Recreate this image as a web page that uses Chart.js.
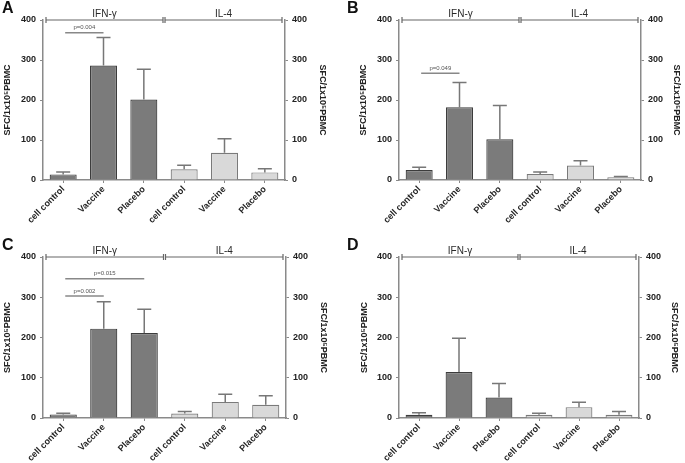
<!DOCTYPE html>
<html>
<head>
<meta charset="utf-8">
<script src="https://cdn.jsdelivr.net/npm/chart.js@4/dist/chart.umd.min.js"></script>
<style>
  body { margin: 0; background: #fff; }
  #page { position: relative; width: 685px; height: 463px; overflow: hidden; }
  .panel { position: absolute; }
  .letter { position: absolute; font: bold 16px "Liberation Sans", Arial, sans-serif; color: #111; }
</style>
</head>
<body>
<div id="page">
  <div class="panel" style="left:0;top:0;width:342px;height:231px"><canvas id="cA"></canvas></div>
  <div class="panel" style="left:345px;top:0;width:340px;height:231px"><canvas id="cB"></canvas></div>
  <div class="panel" style="left:0;top:232px;width:342px;height:231px"><canvas id="cC"></canvas></div>
  <div class="panel" style="left:345px;top:232px;width:340px;height:231px"><canvas id="cD"></canvas></div>
  <div class="letter" style="left:2px;top:-1px">A</div>
  <div class="letter" style="left:347px;top:-1px">B</div>
  <div class="letter" style="left:2px;top:236px">C</div>
  <div class="letter" style="left:347px;top:236px">D</div>
</div>
<script>
// categories and groups
const categories = ['cell control', 'Vaccine', 'Placebo', 'cell control', 'Vaccine', 'Placebo'];
const groups = ['IFN-γ', 'IL-4'];
const yTicks = [0, 100, 200, 300, 400];
const axisTitle = 'SFC/1x10⁵PBMC';

// means and top of error bar (mean + sd)
const meanA = [14, 286, 201, 27, 68, 19];
const errA  = [20, 356, 277, 37, 103, 28];
const meanB = [25, 182, 102, 15, 36, 7];
const errB  = [32, 244, 186, 20, 48, 9];
const meanC = [9, 222, 211, 11, 40, 33];
const errC  = [12, 289, 270, 16, 59, 55];
const meanD = [8, 114, 51, 8, 27, 8];
const errD  = [13, 198, 86, 12, 39, 16];

// significance lines: [from index, to index, y value, label]
const sigA = [[0, 1, 368, 'p=0.004']];
const sigB = [[0, 1, 267, 'p=0.049']];
const sigC = [[0, 1, 303, 'p=0.002'], [0, 2, 346, 'p=0.015']];
const sigD = [];

const darkFill = '#7b7b7b', darkLine = '#3c3c3c';
const lightFill = '#d9d9d9', lightLine = '#7a7a7a';
const axisGray = '#8a8a8a';
const font = '"Liberation Sans", Arial, sans-serif';

Chart.defaults.font.family = font;
Chart.defaults.color = '#333';

const annot = {
  id: 'annot',
  afterDatasetsDraw(chart, args, opts) {
    const { ctx, scales: { x, y }, chartArea } = chart;
    ctx.save();
    ctx.lineWidth = 1.5;
    ctx.strokeStyle = '#777';
    // error bars (upper only)
    opts.err.forEach((e, i) => {
      const cx = x.getPixelForValue(i);
      const y0 = y.getPixelForValue(opts.mean[i]);
      const y1 = y.getPixelForValue(e);
      ctx.beginPath();
      ctx.moveTo(cx, y0); ctx.lineTo(cx, y1);
      ctx.moveTo(cx - 7, y1); ctx.lineTo(cx + 7, y1);
      ctx.stroke();
    });
    // group brackets along the top
    const yt = y.getPixelForValue(400);
    const mid = (x.getPixelForValue(2) + x.getPixelForValue(3)) / 2;
    const segs = [[chartArea.left + 3, mid - 1], [mid + 1, chartArea.right - 3]];
    ctx.strokeStyle = '#666';
    ctx.lineWidth = 1.2;
    ctx.fillStyle = '#2a2a2a';
    ctx.font = '10px ' + font;
    ctx.textAlign = 'center';
    ctx.textBaseline = 'bottom';
    segs.forEach((s, k) => {
      ctx.beginPath();
      ctx.moveTo(s[0], yt); ctx.lineTo(s[1], yt);
      ctx.moveTo(s[0], yt - 3); ctx.lineTo(s[0], yt + 3);
      ctx.moveTo(s[1], yt - 3); ctx.lineTo(s[1], yt + 3);
      ctx.stroke();
      ctx.fillText(groups[k], (s[0] + s[1]) / 2, yt - 1);
    });
    // p-value lines
    ctx.strokeStyle = '#888';
    ctx.lineWidth = 1.5;
    ctx.font = '6px ' + font;
    ctx.fillStyle = '#555';
    opts.sig.forEach(s => {
      const xa = x.getPixelForValue(s[0]) + 2;
      const xb = x.getPixelForValue(s[1]);
      const yy = y.getPixelForValue(s[2]);
      ctx.beginPath();
      ctx.moveTo(xa, yy); ctx.lineTo(xb, yy);
      ctx.stroke();
      ctx.fillText(s[3], (xa + xb) / 2, yy - 2);
    });
    ctx.restore();
  }
};

function makeChart(id, mean, err, sig, geo) {
  const yAxis = (pos, w, tpad) => ({
    position: pos,
    min: 0,
    max: 400,
    afterBuildTicks: s => { s.ticks = yTicks.map(v => ({ value: v })); },
    afterFit: s => { s.width = w; },
    border: { color: axisGray, width: 1.5 },
    grid: { drawOnChartArea: false, tickLength: 3, color: axisGray, lineWidth: 1 },
    ticks: { font: { size: 9, weight: 'bold' }, color: '#222', padding: 4 },
    title: { display: true, text: axisTitle, font: { size: 9, weight: 'bold' }, color: '#222', padding: { top: tpad, bottom: 2 } }
  });
  new Chart(document.getElementById(id), {
    type: 'bar',
    data: {
      labels: categories,
      datasets: [{
        data: mean,
        backgroundColor: mean.map((v, i) => i < 3 ? darkFill : lightFill),
        borderColor: mean.map((v, i) => i < 3 ? darkLine : lightLine),
        borderWidth: 1.2,
        categoryPercentage: 1,
        barPercentage: 0.67
      }]
    },
    options: {
      responsive: true,
      maintainAspectRatio: false,
      animation: false,
      layout: { padding: geo.pad },
      plugins: {
        legend: { display: false },
        tooltip: { enabled: false },
        annot: { mean: mean, err: err, sig: sig }
      },
      scales: {
        x: {
          afterFit: s => { s.height = geo.xh; },
          border: { color: axisGray, width: 1.5 },
          grid: { drawOnChartArea: false, offset: false, tickLength: 3, color: axisGray },
          ticks: { autoSkip: false, maxRotation: 45, minRotation: 45, font: { size: 9, weight: 'bold' }, color: '#222', padding: 1 }
        },
        y: yAxis('left', geo.lw, 2),
        y2: yAxis('right', geo.rw, 0)
      }
    },
    plugins: [annot]
  });
}

makeChart('cA', meanA, errA, sigA, { pad: { top: 20, left: 0, right: 14, bottom: 0 }, lw: 43, rw: 43, xh: 51 });
makeChart('cB', meanB, errB, sigB, { pad: { top: 20, left: 11, right: 3, bottom: 0 }, lw: 43, rw: 41, xh: 51 });
makeChart('cC', meanC, errC, sigC, { pad: { top: 25, left: 0, right: 13, bottom: 0 }, lw: 43, rw: 43, xh: 45 });
makeChart('cD', meanD, errD, sigD, { pad: { top: 25, left: 12, right: 5, bottom: 0 }, lw: 42, rw: 41, xh: 45 });
</script>
</body>
</html>
